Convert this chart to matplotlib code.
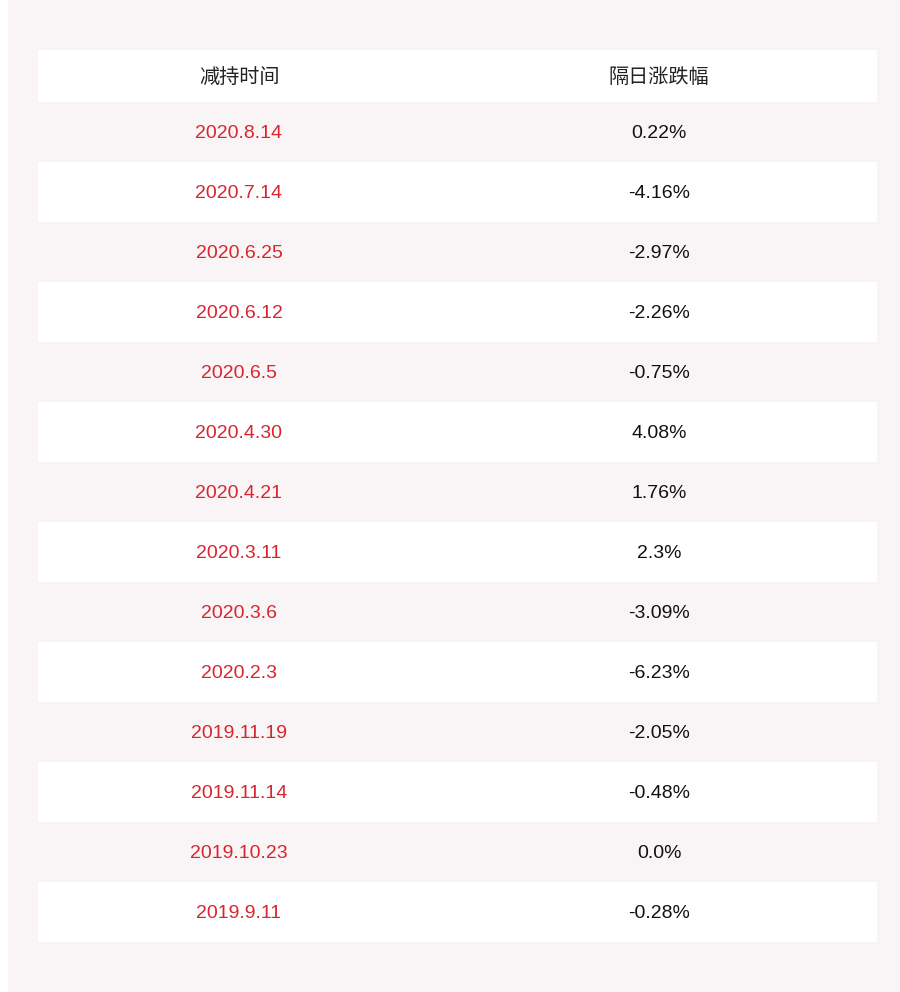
import matplotlib
matplotlib.use("Agg")
import matplotlib.pyplot as plt
from matplotlib.patches import Rectangle

plt.rcParams['font.family'] = ['Liberation Sans', 'Noto Sans CJK SC', 'DejaVu Sans']

headers = ["减持时间", "隔日涨跌幅"]
dates = ["2020.8.14", "2020.7.14", "2020.6.25", "2020.6.12", "2020.6.5", "2020.4.30",
         "2020.4.21", "2020.3.11", "2020.3.6", "2020.2.3", "2019.11.19", "2019.11.14",
         "2019.10.23", "2019.9.11"]
changes = ["0.22%", "-4.16%", "-2.97%", "-2.26%", "-0.75%", "4.08%", "1.76%", "2.3%",
           "-3.09%", "-6.23%", "-2.05%", "-0.48%", "0.0%", "-0.28%"]

W, H = 900, 992
fig = plt.figure(figsize=(W/100, H/100), dpi=100)
ax = fig.add_axes([0, 0, 1, 1])
ax.set_xlim(0, W); ax.set_ylim(H, 0); ax.axis('off')
fig.patch.set_facecolor('white')
bg = '#f9f5f6'
ax.add_patch(Rectangle((8, 0), 892, 992, color=bg, lw=0))

x0, x1 = 38, 877
cx = [239, 659]
ax.add_patch(Rectangle((x0, 50), x1-x0, 52, color='white', lw=0))
for c, h in zip(cx, headers):
    ax.text(c, 77, h, ha='center', va='center', fontsize=14.5, color='#222222',
            family=['Noto Sans CJK SC', 'DejaVu Sans'])
top, rh = 102, 60
for i, (d, v) in enumerate(zip(dates, changes)):
    y = top + i*rh
    if i % 2 == 1:
        ax.add_patch(Rectangle((x0, y), x1-x0, rh, color='white', lw=0))
    ax.text(cx[0], y+rh/2+2, d, ha='center', va='center', fontsize=14, color='#d7262f')
    ax.text(cx[1], y+rh/2+2, v, ha='center', va='center', fontsize=14, color='#111111')

fig.savefig('out.png', dpi=100, facecolor='white')
